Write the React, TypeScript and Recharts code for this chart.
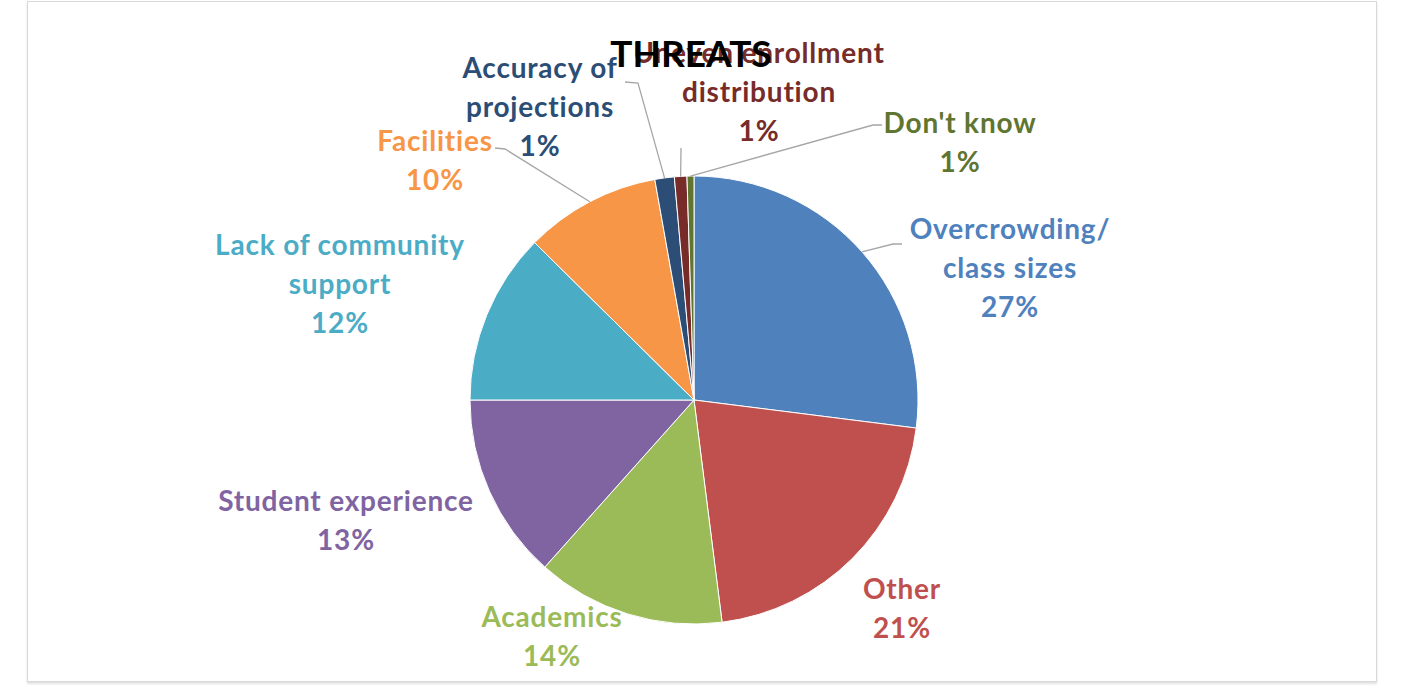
import React from "react";
import { PieChart, Pie, Cell } from "recharts";

const categories = [
  "Overcrowding/ class sizes",
  "Other",
  "Academics",
  "Student experience",
  "Lack of community support",
  "Facilities",
  "Accuracy of projections",
  "Uneven enrollment distribution",
  "Don't know",
];
const values = [27.0, 21.0, 13.6, 13.4, 12.4, 9.8, 1.4, 0.9, 0.5];
const labelLines = [
  ["Overcrowding/", "class sizes"],
  ["Other"],
  ["Academics"],
  ["Student experience"],
  ["Lack of community", "support"],
  ["Facilities"],
  ["Accuracy of", "projections"],
  ["Uneven enrollment", "distribution"],
  ["Don't know"],
];
const colors = ["#4F81BD", "#C0504D", "#9BBB59", "#8064A2", "#4BACC6", "#F79646", "#2C4D75", "#772C2A", "#5F7530"];

// label layout (offsets from pie centre, px)
const labelPos = [
  { x: 316, y: -172, elbow: [199, -156], end: [208, -156] },
  { x: 208, y: 188 },
  { x: -142, y: 216 },
  { x: -348, y: 100 },
  { x: -354, y: -156 },
  { x: -259, y: -260, elbow: [-189, -251], end: [-199, -252] },
  { x: -154, y: -333, elbow: [-56, -317], end: [-69, -318] },
  { x: 65, y: -348, elbow: [-13, -252], end: [-13, -252] },
  { x: 266, y: -278, elbow: [179, -275], end: [188, -275] },
];

const data = categories.map((name, i) => ({ name, value: values[i] }));
const LINE_H = 39;
const FONT = "Lato, 'Open Sans', sans-serif";

const renderLabel = (props: any) => {
  const { cx, cy, midAngle, outerRadius, index, percent } = props;
  const cfg = labelPos[index];
  const rad = (Math.PI / 180) * midAngle;
  const ex = cx + outerRadius * Math.cos(rad);
  const ey = cy - outerRadius * Math.sin(rad);
  const lines = [...labelLines[index], `${Math.round(percent * 100 + 1e-6)}%`];
  const color = colors[index];
  return (
    <g key={`lbl-${index}`}>
      {cfg.elbow && (
        <polyline
          points={`${ex},${ey} ${cx + cfg.elbow[0]},${cy + cfg.elbow[1]} ${cx + cfg.end[0]},${cy + cfg.end[1]}`}
          fill="none"
          stroke="#a6a6a6"
          strokeWidth={1.3}
        />
      )}
      {lines.map((t, j) => (
        <text
          key={j}
          x={cx + cfg.x}
          y={cy + cfg.y + j * LINE_H}
          textAnchor="middle"
          dominantBaseline="central"
          fill={color}
          fontFamily={FONT}
          fontWeight={700}
          fontSize={28}
          letterSpacing={0.8}
        >
          {t}
        </text>
      ))}
    </g>
  );
};

export default function App() {
  return (
    <div style={{ position: "absolute", left: 0, top: 0, width: 1404, height: 696, background: "#fff" }}>
      <div
        style={{
          position: "absolute",
          left: 27,
          top: 1,
          width: 1348,
          height: 679,
          border: "1px solid #d9d9d9",
          boxShadow: "0 2px 2px #e0e0e0",
        }}
      />
      <div style={{ position: "absolute", left: 0, top: 0 }}>
        <PieChart width={1404} height={696} margin={{ top: 0, right: 0, bottom: 0, left: 0 }}>
          <Pie
            data={data}
            dataKey="value"
            nameKey="name"
            cx={694}
            cy={400}
            outerRadius={224}
            startAngle={90}
            endAngle={-270}
            stroke="#ffffff"
            strokeWidth={1}
            label={renderLabel}
            labelLine={false}
            isAnimationActive={false}
          >
            {data.map((d, i) => (
              <Cell key={d.name} fill={colors[i]} />
            ))}
          </Pie>
        </PieChart>
      </div>
      <div
        style={{
          position: "absolute",
          left: 0,
          width: 1382,
          top: 31,
          textAlign: "center",
          fontFamily: FONT,
          fontWeight: 700,
          fontSize: 37,
          color: "#000",
          lineHeight: "44px",
        }}
      >
        THREATS
      </div>
    </div>
  );
}
